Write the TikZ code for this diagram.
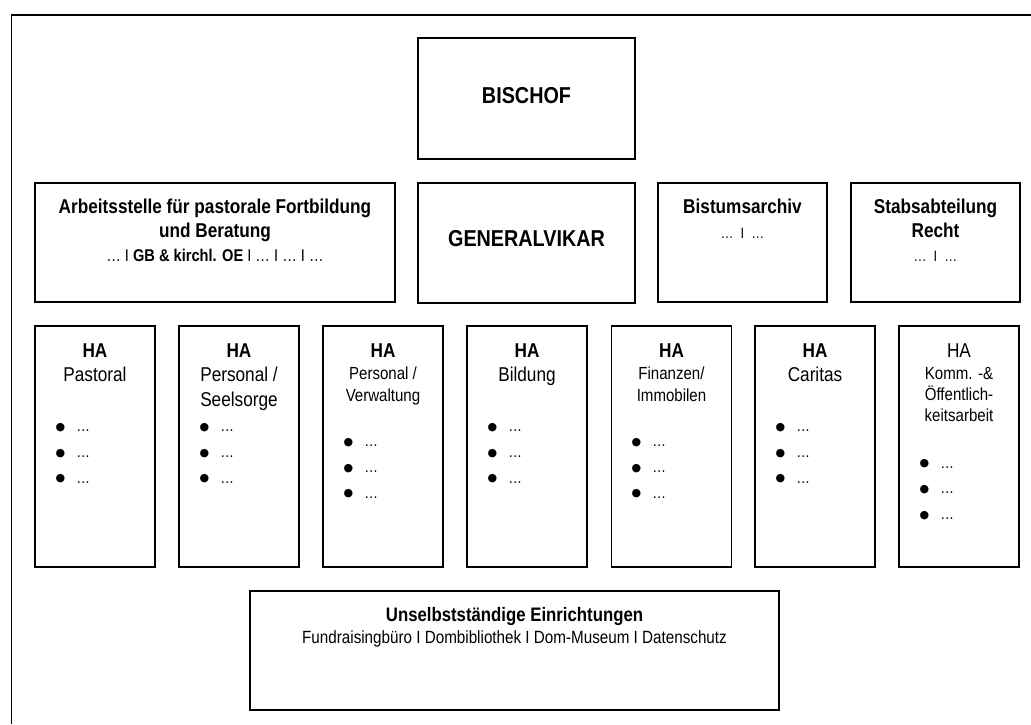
\documentclass[tikz,border=0pt]{standalone}
\usepackage{fontspec}
\setmainfont{Liberation Sans}[FakeStretch=0.86]
\newfontfamily\bulfont{DejaVu Sans}
\newcommand\fs[1]{\fontsize{#1}{#1}\selectfont}
\newcommand\bulitem{\raisebox{1.5pt}{\bulfont\fs{11}●}\hspace{11pt}{\fs{16}…}}
\begin{document}
\begin{tikzpicture}[x=1pt,y=-1pt,
  box/.style={draw, line width=1.8pt, inner sep=0pt},
  txt/.style={anchor=base, inner sep=0pt},
  bl/.style={anchor=base west, inner sep=0pt},
  hb/.style={txt, font=\fs{20}\bfseries},
  hr/.style={txt, font=\fs{20}},
  hs/.style={txt, font=\fs{17.5}}]
\useasboundingbox (0,0) rectangle (1031,724);
\draw[line width=1.8pt] (11.5,724) -- (11.5,15) -- (1031,15);
% boxes
\node[box, minimum width=217pt, minimum height=121pt] (bischof) at (526.5,98.5) {};
\node[box, minimum width=360pt, minimum height=119pt] (arbeit) at (215,242.5) {};
\node[box, minimum width=217pt, minimum height=120pt] (gv) at (526.5,243) {};
\node[box, minimum width=169pt, minimum height=119pt] (archiv) at (742.5,242.5) {};
\node[box, minimum width=169pt, minimum height=119pt] (recht) at (935.5,242.5) {};
\foreach \n/\c in {1/95,2/239,3/383,4/527,5/671.5,6/815,7/959}
  \node[box, minimum width=120pt, minimum height=241pt] (ha\n) at (\c,446.5) {};
\node[box, minimum width=529pt, minimum height=119pt] (unselb) at (514.5,650.5) {};
% top texts
\node[txt, font=\fs{23}\bfseries] (tbischof) at (526.5,103.3) {BISCHOF};
\node[hb] (ta1) at (215,213.3) {Arbeitsstelle für pastorale Fortbildung};
\node[hb] (ta2) at (215,237.3) {und Beratung};
\node[txt, font=\fs{17}] (ta3) at (215,261.7) {… I \textbf{GB \& kirchl. OE} I … I … I …};
\node[txt, font=\fs{23}\bfseries] (tgv) at (526.5,246.7) {GENERALVIKAR};
\node[hb] (tarch1) at (742.5,213.3) {Bistumsarchiv};
\node[txt, font=\fs{15}] (tarch2) at (742.5,238.3) {…\ \ I\ \ …};
\node[hb] (trecht1) at (935.5,213.3) {Stabsabteilung};
\node[hb] (trecht2) at (935.5,237.3) {Recht};
\node[txt, font=\fs{15}] (trecht3) at (935.5,261.7) {…\ \ I\ \ …};
% HA texts
\foreach \n/\c in {1/95,2/239,3/383,4/527,5/671.5,6/815}
  \node[hb] (hah\n) at (\c,357.3) {HA};
\node[hr] (hah7) at (959,357.3) {HA};
\node[hr] (h1a) at (95,381) {Pastoral};
\node[hr] (h2a) at (239,381) {Personal /};
\node[hr] (h2b) at (239,406.7) {Seelsorge};
\node[hs] (h3a) at (383,379) {Personal /};
\node[hs] (h3b) at (383,401.7) {Verwaltung};
\node[hr] (h4a) at (527,381) {Bildung};
\node[hs] (h5a) at (671.5,379) {Finanzen/};
\node[hs] (h5b) at (671.5,401.7) {Immobilen};
\node[hr] (h6a) at (815,381) {Caritas};
\node[hs] (h7a) at (959,379) {Komm. -\&};
\node[hs] (h7b) at (959,400.7) {Öffentlich-};
\node[hs] (h7c) at (959,421.7) {keitsarbeit};
% bullets
\foreach \n/\l/\y in {1/35/431.7,2/179/431.7,3/323/446.7,4/467/431.7,5/611/446.7,6/755/431.7,7/899/468}
  \foreach \i in {0,1,2}
    \node[bl] (b\n-\i) at (\l+20.5,\y+25.8*\i) {\bulitem};
% bottom
\node[txt, font=\fs{19.5}\bfseries] (tu1) at (514.5,621.7) {Unselbstständige Einrichtungen};
\node[txt, font=\fs{17.7}] (tu2) at (514.5,643.3) {Fundraisingbüro I Dombibliothek I Dom-Museum I Datenschutz};
\end{tikzpicture}
\end{document}
